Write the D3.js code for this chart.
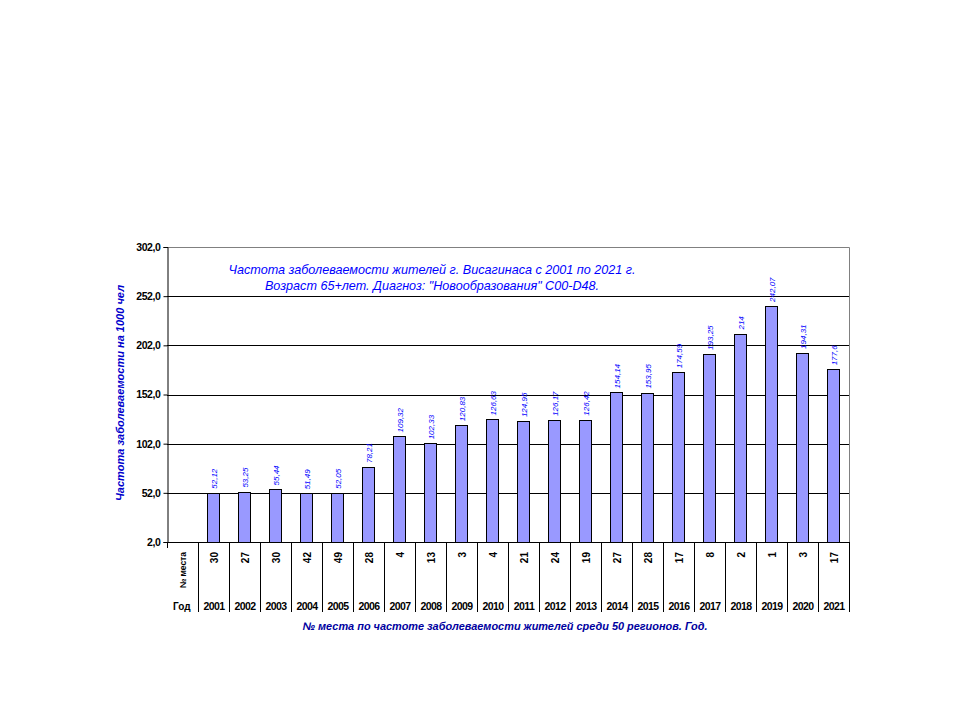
<!DOCTYPE html>
<html>
<head>
<meta charset="utf-8">
<script src="https://cdn.jsdelivr.net/npm/d3@7"></script>
<style>
  body { margin: 0; background: #fff; }
  svg { font-family: 'Liberation Sans', Arial, sans-serif; }
</style>
</head>
<body>
<svg id="chart" width="960" height="720"></svg>
<script>
const years = ['2001', '2002', '2003', '2004', '2005', '2006', '2007', '2008', '2009', '2010', '2011',
  '2012', '2013', '2014', '2015', '2016', '2017', '2018', '2019', '2020', '2021']
const values = [52.12, 53.25, 55.44, 51.49, 52.05, 78.21, 109.32, 102.33, 120.83, 126.63, 124.95,
  126.17, 126.42, 154.14, 153.95, 174.59, 193.25, 214, 242.07, 194.31, 177.6]
const valueLabels = ['52,12', '53,25', '55,44', '51,49', '52,05', '78,21', '109,32', '102,33', '120,83', '126,63', '124,95',
  '126,17', '126,42', '154,14', '153,95', '174,59', '193,25', '214', '242,07', '194,31', '177,6']
const ranks = ['30', '27', '30', '42', '49', '28', '4', '13', '3', '4', '21',
  '24', '19', '27', '28', '17', '8', '2', '1', '3', '17']
const yTicks = [2, 52, 102, 152, 202, 252, 302]
const titleLines = ['Частота заболеваемости жителей г. Висагинаса с 2001 по 2021 г.',
  'Возраст 65+лет. Диагноз: "Новообразования" C00-D48.']

const margin = { top: 247, right: 111, bottom: 178, left: 167 }
const width = 960
const height = 720

const svg = d3.select('#chart')

const x = d3.scaleBand()
  .domain(['label', ...years])
  .range([margin.left, width - margin.right])

const y = d3.scaleLinear()
  .domain([2, 302])
  .range([height - margin.bottom, margin.top])

// grid lines
svg.append('g')
  .selectAll('line')
  .data(yTicks.slice(1, -1))
  .join('line')
  .attr('x1', margin.left)
  .attr('x2', width - margin.right)
  .attr('y1', d => Math.round(y(d)) + 0.5)
  .attr('y2', d => Math.round(y(d)) + 0.5)
  .attr('stroke', '#000')

// plot border top / right
svg.append('path')
  .attr('d', `M${margin.left},${margin.top + 0.5}H${width - margin.right + 0.5}V${y(2)}`)
  .attr('fill', 'none')
  .attr('stroke', '#808080')

// y axis
const yAxis = svg.append('g')
  .attr('transform', `translate(${margin.left + 0.5},0)`)
  .call(d3.axisLeft(y).tickValues(yTicks).tickSize(4).tickFormat(d => d3.format('.1f')(d).replace('.', ',')))
yAxis.select('.domain').attr('stroke', '#000')
yAxis.selectAll('.tick line').attr('stroke', '#000')
yAxis.selectAll('.tick text')
  .attr('font-size', 10.5)
  .attr('font-weight', 'bold')
  .attr('letter-spacing', -0.4)
  .attr('fill', '#000')
  .attr('font-family', "'Liberation Sans', Arial, sans-serif")

// bars
const bw = x.bandwidth() * 0.39
svg.append('g')
  .selectAll('rect')
  .data(values)
  .join('rect')
  .attr('x', (d, i) => Math.round(x(years[i]) + (x.bandwidth() - bw) / 2) + 0.5)
  .attr('y', d => Math.round(y(d)) + 0.5)
  .attr('width', Math.round(bw))
  .attr('height', d => Math.round(y(2)) - Math.round(y(d)))
  .attr('fill', '#9999ff')
  .attr('stroke', '#000')

// value labels
svg.append('g')
  .selectAll('text')
  .data(values)
  .join('text')
  .attr('transform', (d, i) => `translate(${x(years[i]) + x.bandwidth() / 2 + 3},${y(d) - 4}) rotate(-90)`)
  .attr('font-size', 8)
  .attr('font-style', 'italic')
  .attr('fill', '#0000ff')
  .text((d, i) => valueLabels[i])

// x axis line
svg.append('line')
  .attr('x1', margin.left)
  .attr('x2', width - margin.right + 1)
  .attr('y1', Math.round(y(2)) + 0.5)
  .attr('y2', Math.round(y(2)) + 0.5)
  .attr('stroke', '#000')

// table separators
const tableBottom = 612
svg.append('g')
  .selectAll('line')
  .data(['label', ...years, 'end'])
  .join('line')
  .attr('x1', d => Math.round(d === 'end' ? width - margin.right : x(d)) + 0.5)
  .attr('x2', d => Math.round(d === 'end' ? width - margin.right : x(d)) + 0.5)
  .attr('y1', y(2))
  .attr('y2', d => d === 'label' ? y(2) + 6 : tableBottom)
  .attr('stroke', '#000')

// rank row
svg.append('g')
  .selectAll('text')
  .data(ranks)
  .join('text')
  .attr('transform', (d, i) => `translate(${x(years[i]) + x.bandwidth() / 2 + 4},552) rotate(-90)`)
  .attr('text-anchor', 'end')
  .attr('font-size', 10)
  .attr('font-weight', 'bold')
  .attr('fill', '#000')
  .text(d => d)

svg.append('text')
  .attr('transform', `translate(${x('label') + x.bandwidth() / 2 + 3},552) rotate(-90)`)
  .attr('text-anchor', 'end')
  .attr('font-size', 8.5)
  .attr('font-weight', 'bold')
  .attr('fill', '#000')
  .text('№ места')

// year row
svg.append('g')
  .selectAll('text')
  .data(years)
  .join('text')
  .attr('x', d => x(d) + x.bandwidth() / 2 + 0.5)
  .attr('y', 610)
  .attr('text-anchor', 'middle')
  .attr('font-size', 10.5)
  .attr('font-weight', 'bold')
  .attr('letter-spacing', -0.6)
  .attr('fill', '#000')
  .text(d => d)

svg.append('text')
  .attr('x', 173)
  .attr('y', 610)
  .attr('font-size', 10)
  .attr('font-weight', 'bold')
  .attr('fill', '#000')
  .text('Год')

// chart title inside plot
svg.append('g')
  .selectAll('text')
  .data(titleLines)
  .join('text')
  .attr('x', 432)
  .attr('y', (d, i) => 274 + i * 16)
  .attr('text-anchor', 'middle')
  .attr('font-size', 12.6)
  .attr('font-style', 'italic')
  .attr('fill', '#0000ff')
  .text(d => d)

// y axis title
svg.append('text')
  .attr('transform', `translate(124,393) rotate(-90)`)
  .attr('text-anchor', 'middle')
  .attr('font-size', 11)
  .attr('font-style', 'italic')
  .attr('font-weight', 'bold')
  .attr('fill', '#0000cc')
  .attr('textLength', 216)
  .attr('lengthAdjust', 'spacingAndGlyphs')
  .text('Частота заболеваемости на 1000 чел')

// x axis title
svg.append('text')
  .attr('x', 505)
  .attr('y', 630)
  .attr('text-anchor', 'middle')
  .attr('font-size', 11)
  .attr('font-style', 'italic')
  .attr('font-weight', 'bold')
  .attr('fill', '#0000a0')
  .attr('textLength', 405)
  .attr('lengthAdjust', 'spacingAndGlyphs')
  .text('№ места по частоте заболеваемости жителей среди 50 регионов.  Год.')
</script>
</body>
</html>
